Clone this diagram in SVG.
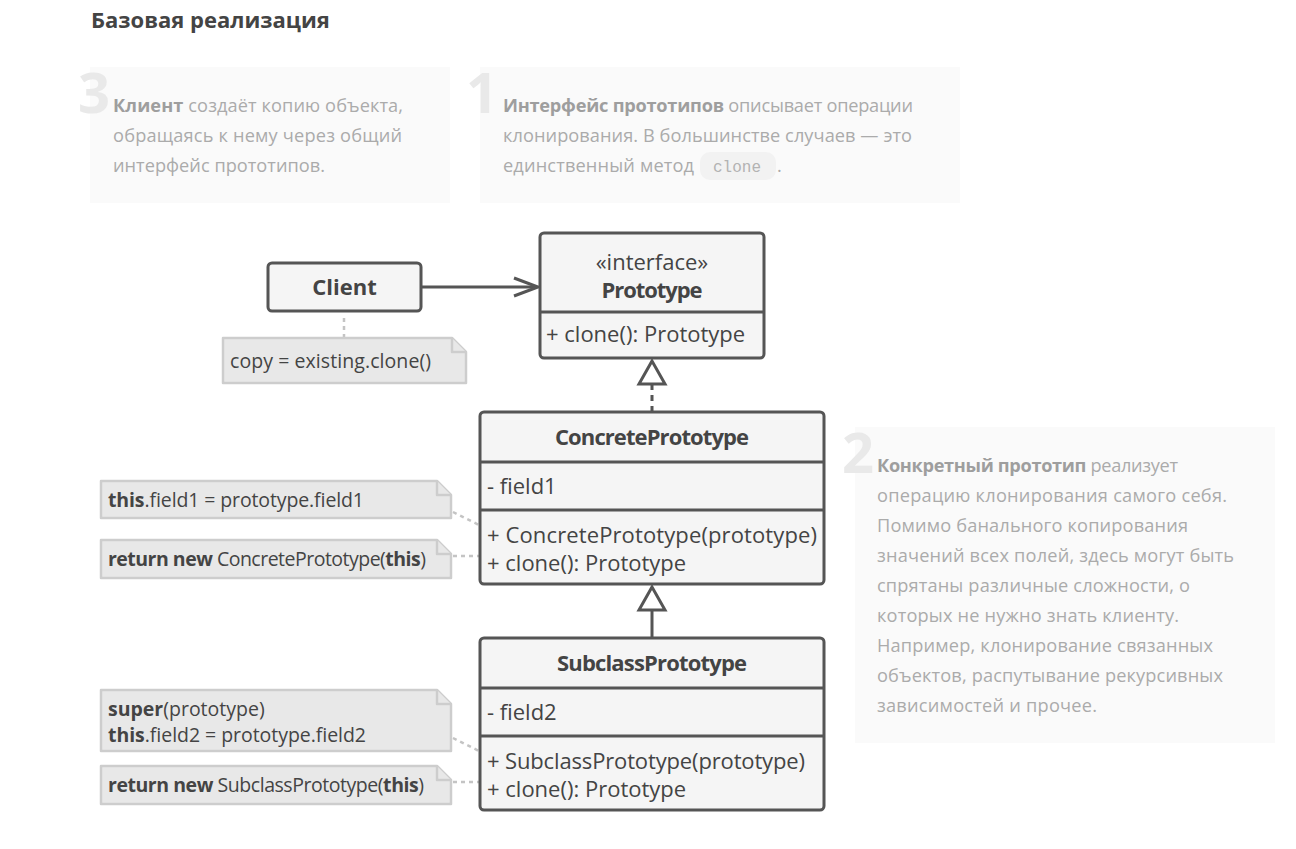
<svg xmlns="http://www.w3.org/2000/svg" width="1296" height="849" viewBox="0 0 1296 849">
<style>
.title{font-family:"Open Sans","Noto Sans",sans-serif;font-weight:700;font-size:22px;fill:#444}
.num{font-family:"Open Sans","Noto Sans",sans-serif;font-weight:700;font-size:56px;fill:#e9e9e9}
.desc{font-family:"Open Sans","Noto Sans",sans-serif;font-size:18.2px;fill:#ababab}
.desc .b{font-weight:700;fill:#9e9e9e}
.code{font-family:"Liberation Mono","DejaVu Sans Mono",monospace;font-size:16px;fill:#b3b3b3}
.panel{fill:#fafafa}
.box{fill:#f5f5f5;stroke:#555;stroke-width:3}
.sep{stroke:#555;stroke-width:3;fill:none}
.t{font-family:"Open Sans","Noto Sans",sans-serif;font-size:22px;fill:#444}
.tb{font-family:"Open Sans","Noto Sans",sans-serif;font-size:22px;font-weight:700;fill:#444}
.note{fill:#e8e8e8;stroke:#cdcdcd;stroke-width:2.5;stroke-linejoin:round}
.nt{font-family:"Open Sans","Noto Sans",sans-serif;font-size:19.5px;fill:#444}
.nt .b{font-weight:700}
.dot{stroke:#c4c4c4;stroke-width:2.5;stroke-dasharray:4 4;fill:none}
.line{stroke:#555;stroke-width:3;fill:none}
.dash{stroke:#555;stroke-width:3;stroke-dasharray:6 5;fill:none}
.tri{fill:#fff;stroke:#555;stroke-width:3;stroke-linejoin:miter}
</style>

<text class="title" x="91" y="28">Базовая реализация</text>

<g id="desc3">
<rect class="panel" x="90" y="67" width="360" height="136"/>
<text class="num" x="78" y="113">3</text>
<text class="desc" x="113" y="112" textLength="290"><tspan class="b">Клиент</tspan> создаёт копию объекта,</text>
<text class="desc" x="113" y="142" textLength="289">обращаясь к нему через общий</text>
<text class="desc" x="113" y="172" textLength="212">интерфейс прототипов.</text>
</g>

<g id="desc1">
<rect class="panel" x="480" y="67" width="480" height="136"/>
<text class="num" x="466" y="113">1</text>
<text class="desc" x="503" y="112" textLength="410"><tspan class="b">Интерфейс прототипов</tspan> описывает операции</text>
<text class="desc" x="503" y="142" textLength="409">клонирования. В большинстве случаев — это</text>
<text class="desc" x="503" y="172" textLength="191">единственный метод</text>
<rect x="700" y="152" width="76" height="28" rx="10" fill="#f2f2f2"/>
<text class="code" x="713" y="172">clone</text>
<text class="desc" x="777" y="172">.</text>
</g>

<g id="desc2">
<rect class="panel" x="855" y="427" width="420" height="316"/>
<text class="num" x="842" y="473">2</text>
<text class="desc" x="877" y="472" textLength="301"><tspan class="b">Конкретный прототип</tspan> реализует</text>
<text class="desc" x="877" y="502" textLength="350">операцию клонирования самого себя.</text>
<text class="desc" x="877" y="532" textLength="311">Помимо банального копирования</text>
<text class="desc" x="877" y="562" textLength="357">значений всех полей, здесь могут быть</text>
<text class="desc" x="877" y="592" textLength="313">спрятаны различные сложности, о</text>
<text class="desc" x="877" y="622" textLength="302">которых не нужно знать клиенту.</text>
<text class="desc" x="877" y="652" textLength="336">Например, клонирование связанных</text>
<text class="desc" x="877" y="682" textLength="346">объектов, распутывание рекурсивных</text>
<text class="desc" x="877" y="712" textLength="220">зависимостей и прочее.</text>
</g>

<g id="connectors">
<line class="line" x1="421" y1="287" x2="537" y2="287"/>
<polyline class="line" points="514,278 538,287 514,296"/>
<line class="dash" x1="652" y1="384" x2="652" y2="411"/>
<polygon class="tri" points="652,361 639,384 665,384"/>
<line class="line" x1="652" y1="610" x2="652" y2="637"/>
<polygon class="tri" points="652,587 639,610 665,610"/>
<line class="dot" x1="344" y1="318" x2="344" y2="338"/>
<line class="dot" x1="453" y1="512" x2="479" y2="525"/>
<line class="dot" x1="453" y1="556" x2="479" y2="556"/>
<line class="dot" x1="453" y1="738" x2="479" y2="751"/>
<line class="dot" x1="453" y1="782" x2="479" y2="782"/>
</g>

<g id="client">
<rect class="box" x="268" y="263" width="153" height="48" rx="4"/>
<text class="tb" x="344.5" y="295" text-anchor="middle">Client</text>
</g>

<g id="note-client">
<path class="note" d="M223,338 H452 L466,352 V383 H223 Z"/>
<path class="note" d="M452,338 V352 H466"/>
<text class="nt" x="230" y="368" textLength="201">copy = existing.clone()</text>
</g>

<g id="prototype">
<rect class="box" x="540" y="233" width="224" height="125" rx="4"/>
<line class="sep" x1="540" y1="312" x2="764" y2="312"/>
<text class="t" x="652" y="270" text-anchor="middle">«interface»</text>
<text class="tb" x="652" y="298" text-anchor="middle" textLength="101">Prototype</text>
<text class="t" x="546" y="342">+ clone(): Prototype</text>
</g>

<g id="concrete">
<rect class="box" x="480" y="412" width="344" height="172" rx="4"/>
<line class="sep" x1="480" y1="462" x2="824" y2="462"/>
<line class="sep" x1="480" y1="510" x2="824" y2="510"/>
<text class="tb" x="652" y="445" text-anchor="middle" textLength="194">ConcretePrototype</text>
<text class="t" x="487" y="494">- field1</text>
<text class="t" x="487" y="543" textLength="330">+ ConcretePrototype(prototype)</text>
<text class="t" x="487" y="571">+ clone(): Prototype</text>
</g>

<g id="note-c1">
<path class="note" d="M101,481 H437 L451,495 V518 H101 Z"/>
<path class="note" d="M437,481 V495 H451"/>
<text class="nt" x="108" y="507" textLength="256"><tspan class="b">this</tspan>.field1 = prototype.field1</text>
</g>

<g id="note-c2">
<path class="note" d="M101,540 H437 L451,554 V578 H101 Z"/>
<path class="note" d="M437,540 V554 H451"/>
<text class="nt" x="108" y="566" textLength="318"><tspan class="b">return new</tspan> ConcretePrototype(<tspan class="b">this</tspan>)</text>
</g>

<g id="subclass">
<rect class="box" x="480" y="638" width="344" height="172" rx="4"/>
<line class="sep" x1="480" y1="688" x2="824" y2="688"/>
<line class="sep" x1="480" y1="736" x2="824" y2="736"/>
<text class="tb" x="652" y="671" text-anchor="middle" textLength="190">SubclassPrototype</text>
<text class="t" x="487" y="720">- field2</text>
<text class="t" x="487" y="769" textLength="318">+ SubclassPrototype(prototype)</text>
<text class="t" x="487" y="797">+ clone(): Prototype</text>
</g>

<g id="note-s1">
<path class="note" d="M101,690 H437 L451,704 V751 H101 Z"/>
<path class="note" d="M437,690 V704 H451"/>
<text class="nt" x="108" y="716"><tspan class="b">super</tspan>(prototype)</text>
<text class="nt" x="108" y="742" textLength="258"><tspan class="b">this</tspan>.field2 = prototype.field2</text>
</g>

<g id="note-s2">
<path class="note" d="M101,766 H437 L451,780 V804 H101 Z"/>
<path class="note" d="M437,766 V780 H451"/>
<text class="nt" x="108" y="792" textLength="316"><tspan class="b">return new</tspan> SubclassPrototype(<tspan class="b">this</tspan>)</text>
</g>
</svg>
